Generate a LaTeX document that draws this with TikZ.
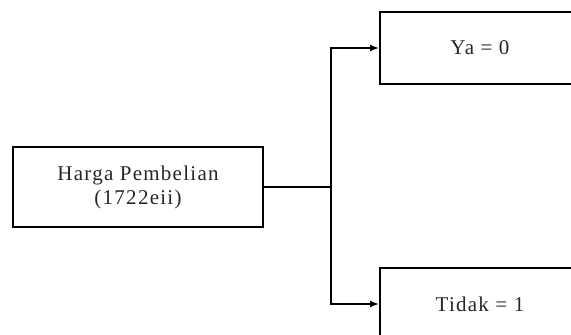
\documentclass[tikz,border=0pt]{standalone}
\usepackage{fontspec}
\setmainfont{Liberation Serif}
\newfontfamily\boxfont[LetterSpace=6]{Liberation Serif}
\usetikzlibrary{arrows.meta}
\tikzset{
    boxnode/.style={draw=black, line width=1.8pt, rectangle, align=center, font=\boxfont\fontsize{21}{24}\selectfont, text=black!85},
    link/.style={line width=1.8pt, black},
    arrowlink/.style={link, -{Latex[length=9pt,width=7pt]}}
}
\begin{document}
\begin{tikzpicture}[x=1pt,y=1pt]
        \clip (0,0) rectangle (571,335);
        \node[boxnode, minimum width=250pt, minimum height=80pt] (harga) at (138, 148) {Harga Pembelian\\(1722eii)};
        \node[boxnode, minimum width=200pt, minimum height=72pt] (ya) at (480, 287) {Ya = 0};
        \node[boxnode, minimum width=200pt, minimum height=72pt] (tidak) at (480, 31) {Tidak = 1};
        \coordinate (split) at (331, 148);
        \draw[link] (harga.east) -- (split);
        \draw[arrowlink] (split) |- (ya.west);
        \draw[arrowlink] (split) |- (tidak.west);
    \end{tikzpicture}
\end{document}
